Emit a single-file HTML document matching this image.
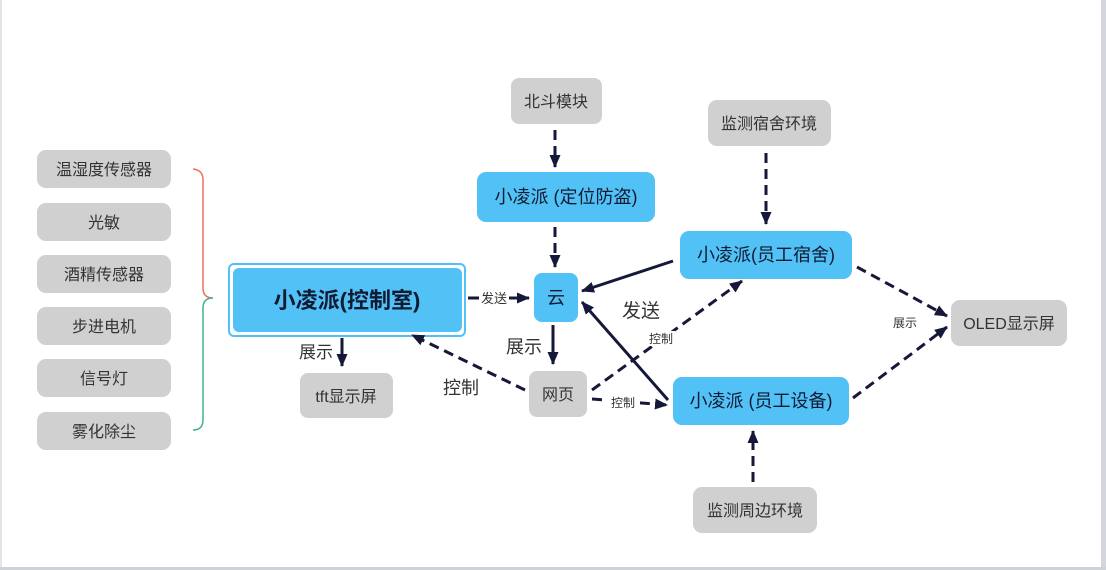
<!DOCTYPE html>
<html><head><meta charset="utf-8">
<style>
html,body{margin:0;padding:0;background:#fff;}
body{width:1106px;height:570px;overflow:hidden;position:relative;}
svg{position:absolute;left:0;top:0;}
text{font-family:"Liberation Sans","Noto Sans CJK SC",sans-serif;}
</style></head>
<body>
<svg width="1106" height="570" viewBox="0 0 1106 570" xmlns="http://www.w3.org/2000/svg">
<defs>
<marker id="ah" markerUnits="userSpaceOnUse" markerWidth="13" markerHeight="11" refX="12" refY="5.5" orient="auto">
<path d="M0,0 L13,5.5 L0,11 z" fill="#16183a"/>
</marker>
</defs>
<rect x="0" y="0" width="1106" height="570" fill="#fff"/>
<!-- window edges -->
<rect x="0" y="0" width="2" height="570" fill="#e2e4e8"/>
<rect x="1101" y="0" width="5" height="570" fill="#d3d6dc"/>
<rect x="0" y="567" width="1106" height="3" fill="#cfd2d8"/>

<!-- left gray boxes -->
<g fill="#d0d0d0">
<rect x="37" y="150" width="134" height="38" rx="9"/>
<rect x="37" y="203" width="134" height="38" rx="9"/>
<rect x="37" y="255" width="134" height="38" rx="9"/>
<rect x="37" y="307" width="134" height="38" rx="9"/>
<rect x="37" y="359" width="134" height="38" rx="9"/>
<rect x="37" y="412" width="134" height="38" rx="9"/>
</g>
<g font-size="16" fill="#333" text-anchor="middle">
<text x="104" y="175">温湿度传感器</text>
<text x="104" y="228">光敏</text>
<text x="104" y="280">酒精传感器</text>
<text x="104" y="332">步进电机</text>
<text x="104" y="384">信号灯</text>
<text x="104" y="437">雾化除尘</text>
</g>

<!-- brace -->
<path d="M193,169 Q203,170 203,180 L203,288 Q203,298 213,298" fill="none" stroke="#e8745c" stroke-width="1.5"/>
<path d="M213,298 Q203,298 203,308 L203,420 Q203,430 193,430" fill="none" stroke="#3db58a" stroke-width="1.5"/>

<!-- main box -->
<rect x="229" y="264" width="236" height="72" rx="5" fill="none" stroke="#52c1f5" stroke-width="2"/>
<rect x="233" y="268" width="229" height="64" rx="6" fill="#52c1f5"/>
<text x="347" y="308" font-size="22" font-weight="bold" fill="#111a33" text-anchor="middle">小凌派(控制室)</text>

<!-- tft -->
<rect x="300" y="373" width="93" height="45" rx="8" fill="#d0d0d0"/>
<text x="346" y="402" font-size="16" fill="#333" text-anchor="middle">tft显示屏</text>

<!-- 北斗 -->
<rect x="511" y="78" width="91" height="46" rx="8" fill="#d0d0d0"/>
<text x="556" y="107" font-size="16" fill="#333" text-anchor="middle">北斗模块</text>

<!-- 定位防盗 -->
<rect x="477" y="172" width="178" height="50" rx="9" fill="#52c1f5"/>
<text x="566" y="203" font-size="18" fill="#111a33" text-anchor="middle">小凌派 (定位防盗)</text>

<!-- 云 -->
<rect x="534" y="273" width="44" height="49" rx="8" fill="#52c1f5"/>
<text x="556" y="304" font-size="18" fill="#111a33" text-anchor="middle">云</text>

<!-- 网页 -->
<rect x="529" y="371" width="58" height="46" rx="8" fill="#d0d0d0"/>
<text x="558" y="400" font-size="16" fill="#333" text-anchor="middle">网页</text>

<!-- 监测宿舍环境 -->
<rect x="708" y="100" width="123" height="46" rx="9" fill="#d0d0d0"/>
<text x="769" y="129" font-size="16" fill="#333" text-anchor="middle">监测宿舍环境</text>

<!-- 员工宿舍 -->
<rect x="680" y="231" width="172" height="48" rx="9" fill="#52c1f5"/>
<text x="766" y="261" font-size="18" fill="#111a33" text-anchor="middle">小凌派(员工宿舍)</text>

<!-- 员工设备 -->
<rect x="673" y="377" width="176" height="48" rx="9" fill="#52c1f5"/>
<text x="761" y="407" font-size="18" fill="#111a33" text-anchor="middle">小凌派 (员工设备)</text>

<!-- OLED -->
<rect x="951" y="300" width="116" height="46" rx="9" fill="#d0d0d0"/>
<text x="1009" y="329" font-size="16" fill="#333" text-anchor="middle">OLED显示屏</text>

<!-- 监测周边环境 -->
<rect x="693" y="487" width="124" height="46" rx="9" fill="#d0d0d0"/>
<text x="755" y="516" font-size="16" fill="#333" text-anchor="middle">监测周边环境</text>

<!-- connectors -->
<g stroke="#16183a" stroke-width="3" fill="none">
<line x1="555" y1="130" x2="555" y2="167" stroke-dasharray="10 6" marker-end="url(#ah)"/>
<line x1="555" y1="227" x2="555" y2="267" stroke-dasharray="10 6" marker-end="url(#ah)"/>
<line x1="525" y1="390" x2="412" y2="335" stroke-dasharray="10 6" marker-end="url(#ah)"/>
<line x1="592" y1="390" x2="742" y2="281" stroke-dasharray="10 6" marker-end="url(#ah)"/>
<line x1="592" y1="399" x2="667" y2="405" stroke-dasharray="10 6" marker-end="url(#ah)"/>
<line x1="766" y1="153" x2="766" y2="224" stroke-dasharray="10 6" marker-end="url(#ah)"/>
<line x1="857" y1="267" x2="947" y2="316" stroke-dasharray="10 6" marker-end="url(#ah)"/>
<line x1="853" y1="398" x2="947" y2="327" stroke-dasharray="10 6" marker-end="url(#ah)"/>
<line x1="753" y1="482" x2="753" y2="431" stroke-dasharray="10 6" marker-end="url(#ah)"/>
<line x1="468" y1="298" x2="529" y2="298" marker-end="url(#ah)"/>
<line x1="553" y1="325" x2="553" y2="364" marker-end="url(#ah)"/>
<line x1="342" y1="338" x2="342" y2="366" marker-end="url(#ah)"/>
<line x1="673" y1="261" x2="582" y2="291" marker-end="url(#ah)"/>
<line x1="668" y1="400" x2="582" y2="302" marker-end="url(#ah)"/>
</g>

<!-- labels on connectors -->
<rect x="479" y="290" width="30" height="16" fill="#fff"/>
<text x="494" y="303" font-size="13" fill="#333" text-anchor="middle">发送</text>
<rect x="607" y="395" width="33" height="15" fill="#fff"/>
<text x="623" y="407" font-size="12" fill="#333" text-anchor="middle">控制</text>
<rect x="646" y="331" width="29" height="15" fill="#fff"/>
<text x="661" y="343" font-size="12" fill="#333" text-anchor="middle">控制</text>

<text x="316" y="358" font-size="17" fill="#333" text-anchor="middle">展示</text>
<text x="461" y="394" font-size="18" fill="#333" text-anchor="middle">控制</text>
<text x="524" y="353" font-size="18" fill="#333" text-anchor="middle">展示</text>
<text x="641" y="317" font-size="19" fill="#333" text-anchor="middle">发送</text>
<text x="905" y="327" font-size="12" fill="#333" text-anchor="middle">展示</text>
</svg>
</body></html>
